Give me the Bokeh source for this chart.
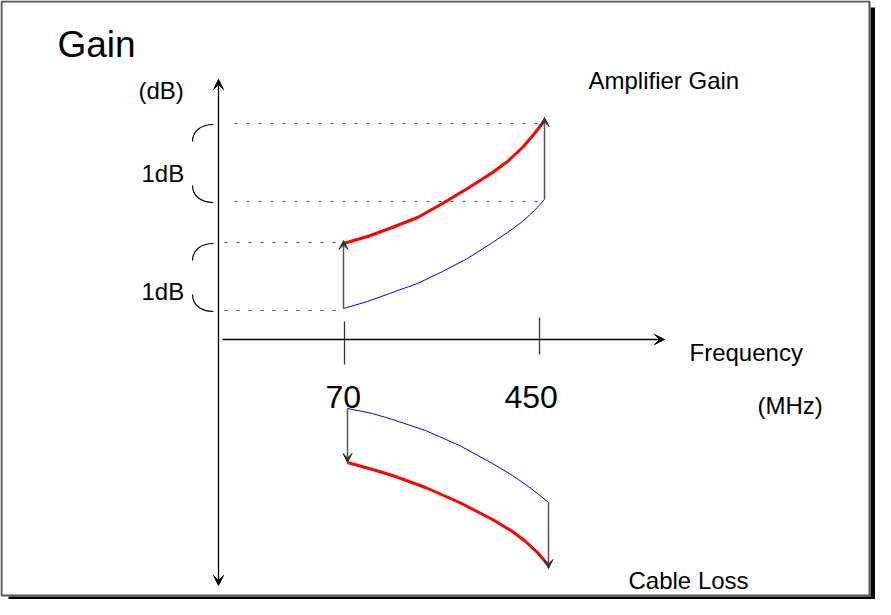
from bokeh.plotting import figure
from bokeh.models import Range1d, Arrow, VeeHead
from bokeh.core.properties import value
from bokeh.embed import file_html
from bokeh.resources import INLINE

FONT = "Liberation Sans"

# ---- data (diagram coordinates; y grows downward) ----
# dB reference levels drawn as dotted lines
upper_levels = [131, 209]
lower_levels = [250, 318]

# frequency marks
freq_tick_x = [352, 547]
freq_tick_labels = ["70", "450"]

# amplifier gain curves
amp_x = [351, 375, 397, 425, 450, 475, 500, 515, 530, 542, 552]
amp_flat_y = [316, 309, 301, 291, 279, 266, 250, 240, 229, 218, 207]    # blue
amp_tilt_y = [251, 244, 236, 225, 211, 196, 180, 169, 155, 141, 128]    # red

# cable loss curves
cable_x = [355, 380, 400, 433, 467, 500, 520, 533, 545, 556]
cable_flat_y = [416, 421, 427, 438, 453, 471, 483, 492, 501, 510]       # blue
cable_tilt_y = [470, 477, 483, 495, 510, 527, 539, 549, 560, 573]       # red

p = figure(width=875, height=599, output_backend="svg", toolbar_location=None,
           x_range=Range1d(8, 883), y_range=Range1d(607, 8), min_border=0)
p.axis.visible = False
p.grid.visible = False
p.outline_line_color = None
p.background_fill_color = "white"
p.border_fill_color = "white"

# frame with drop shadow
p.quad(left=[878], right=[883], top=[15], bottom=[607], fill_color="black", line_color=None)
p.quad(left=[16], right=[883], top=[604], bottom=[607], fill_color="black", line_color=None)
p.quad(left=[9], right=[877], top=[9], bottom=[603], fill_color=None,
       line_color="#555555", line_width=2)

# axes
p.add_layout(Arrow(start=VeeHead(size=10, fill_color="black", line_color="black", line_width=1),
                   end=VeeHead(size=10, fill_color="black", line_color="black", line_width=1),
                   x_start=226, y_start=593, x_end=226, y_end=87,
                   line_color="black", line_width=1.3))
p.add_layout(Arrow(end=VeeHead(size=10, fill_color="black", line_color="black", line_width=1),
                   x_start=230, y_start=347, x_end=672, y_end=347,
                   line_color="black", line_width=1.3))

# frequency ticks
p.segment(x0=freq_tick_x, y0=[329, 325], x1=freq_tick_x, y1=[372, 362],
          line_color="#333333", line_width=1.3)

# dotted reference lines
p.segment(x0=[242, 242], y0=upper_levels, x1=[amp_x[-1]] * 2, y1=upper_levels,
          line_color="#555555", line_width=1.2, line_dash="3 9")
p.segment(x0=[232, 232], y0=lower_levels, x1=[amp_x[0]] * 2, y1=lower_levels,
          line_color="#555555", line_width=1.2, line_dash="3 9")

# brackets
for top, bot in [(upper_levels[0], upper_levels[1]), (lower_levels[0], lower_levels[1])]:
    h = 17
    p.bezier(x0=[221], y0=[top + 1], x1=[200], y1=[top + h + 1],
             cx0=[208], cy0=[top + 1], cx1=[200], cy1=[top + 8],
             line_color="black", line_width=1.2)
    p.bezier(x0=[200], y0=[bot - h + 1], x1=[221], y1=[bot + 1],
             cx0=[200], cy0=[bot - 6], cx1=[208], cy1=[bot + 1],
             line_color="black", line_width=1.2)

# curves
p.line(amp_x, amp_flat_y, line_color="#0000ff", line_width=1)
p.line(amp_x, amp_tilt_y, line_color="#ff0000", line_width=3)
p.line(cable_x, cable_flat_y, line_color="#0000ff", line_width=1)
p.line(cable_x, cable_tilt_y, line_color="#ff0000", line_width=3)

# gain / loss arrows
def garrow(x, y0, y1):
    p.add_layout(Arrow(end=VeeHead(size=9, fill_color="#333333", line_color="#333333", line_width=1),
                       x_start=x, y_start=y0, x_end=x, y_end=y1,
                       line_color="#555555", line_width=1.5))

garrow(amp_x[0], amp_flat_y[0], amp_tilt_y[0] - 3)
garrow(amp_x[-1], amp_flat_y[-1], amp_tilt_y[-1] - 3)
garrow(cable_x[0], cable_flat_y[0], cable_tilt_y[0])
garrow(cable_x[-1], cable_flat_y[-1], cable_tilt_y[-1] + 3)

# texts
def label(x, y, t, size):
    p.text(x=[x], y=[y], text=[t], text_font=value(FONT), text_font_size=value(size),
           text_color="black", text_baseline="alphabetic", text_align="left")

label(65, 52, "Gain", "37px")
label(146, 98, "(dB)", "24px")
label(149, 181, "1dB", "24px")
label(149, 299, "1dB", "24px")
label(596, 88, "Amplifier Gain", "24px")
label(697, 360, "Frequency", "24px")
label(765, 413, "(MHz)", "24px")
label(636, 588, "Cable Loss", "24px")
label(333, 404, freq_tick_labels[0], "32px")
label(512, 404, freq_tick_labels[1], "32px")

open("out.html", "w").write(file_html(p, INLINE))
